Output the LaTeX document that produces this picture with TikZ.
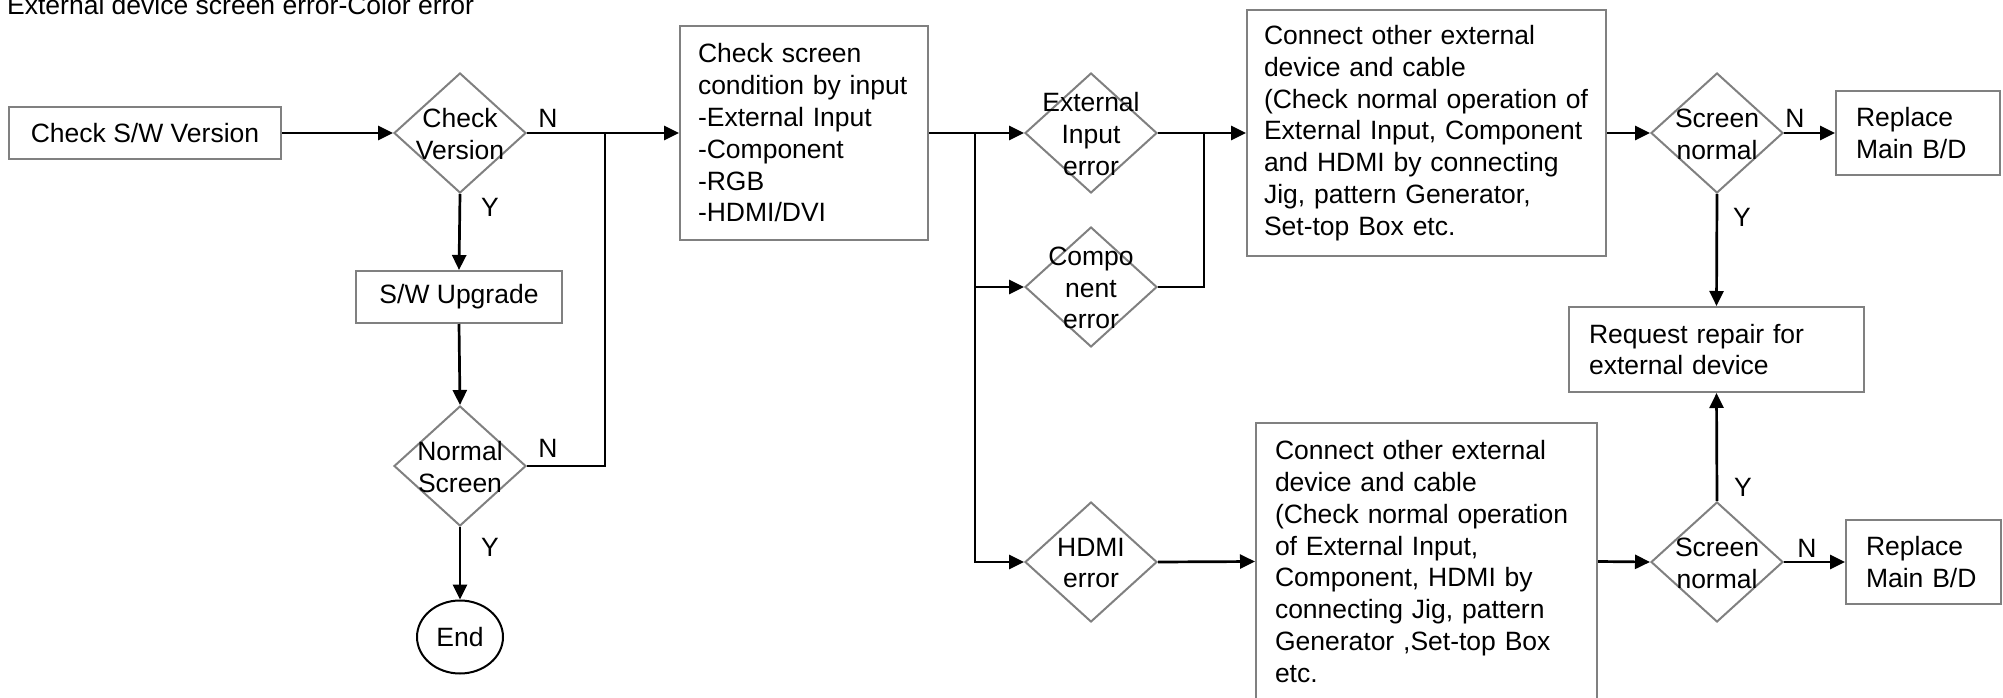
\documentclass[tikz,border=0pt]{standalone}
\usepackage{fontspec}
\setmainfont{Liberation Sans}
\usetikzlibrary{shapes.geometric,arrows.meta}
\definecolor{bordergray}{RGB}{128,128,128}
\tikzset{
  box/.style={draw=bordergray, line width=2pt, rectangle, align=left, inner ysep=0pt},
  cbox/.style={draw=bordergray, line width=2pt, rectangle, align=center, inner sep=0pt},
  dec/.style={draw=bordergray, line width=2pt, diamond, minimum width=132pt, minimum height=120pt, inner sep=0pt},
  dtext/.style={align=center, inner sep=0pt},
  flow/.style={line width=2.7pt, -{Triangle[length=15pt,width=14pt]}},
  plain/.style={line width=2.7pt},
  lab/.style={inner sep=0pt},
  endnode/.style={draw=black, line width=2pt, ellipse, minimum width=86pt, minimum height=73pt, inner sep=0pt}
}
\begin{document}
\begin{tikzpicture}[x=1pt,y=-1pt,font=\fontsize{26.5}{31.8}\selectfont]
\path[use as bounding box] (0,0) rectangle (2003,698);
\clip (0,0) rectangle (2003,698);

\node[anchor=base west, inner sep=0pt] (title) at (7,15) {External device screen error-Color error};

% left column
\node[cbox, minimum width=272pt, minimum height=52pt] (csw) at (145,133) {Check S/W Version};
\node[dec] (cv) at (460,133) {};
\node[dtext] (cvt) at (460,134) {Check\\Version};
\node[cbox, minimum width=206pt, minimum height=52pt] (swu) at (459,297) {S/W Upgrade};
\node[dec] (ns) at (460,466) {};
\node[dtext] (nst) at (460,467) {Normal\\Screen};
\node[endnode] (end) at (460,637) {End};

\coordinate (j1) at (605,133);
\coordinate (j2) at (975,133);
\coordinate (j3) at (1204,133);

% check screen box
\node[box, text width=212pt, inner xsep=18pt, minimum height=214pt] (chk) at (804,133)
  {Check screen\\condition by input\\-External Input\\-Component\\-RGB\\-HDMI/DVI};

% error diamonds
\node[dec] (ext) at (1091,133) {};
\node[dtext] (extt) at (1091,134) {External\\Input\\error};
\node[dec] (comp) at (1091,287) {};
\node[dtext] (compt) at (1091,288) {Compo\\nent\\error};
\node[dec] (hdmi) at (1091,562) {};
\node[dtext] (hdmit) at (1091,563) {HDMI\\error};

% connect boxes
\node[box, text width=325pt, inner xsep=17pt, minimum height=246pt] (con1) at (1426.5,133)
  {Connect other external\\device and cable\\(Check normal operation of\\External Input, Component\\and HDMI by connecting\\Jig, pattern Generator,\\Set-top Box etc.};
\node[box, text width=303pt, inner xsep=19pt, minimum height=277pt] (con2) at (1426.5,561.5)
  {Connect other external\\device and cable\\(Check normal operation\\of External Input,\\Component, HDMI by\\connecting Jig, pattern\\Generator ,Set-top Box\\etc.};

% right column
\node[dec] (sn1) at (1717,133) {};
\node[dtext] (sn1t) at (1717,134) {Screen\\normal};
\node[box, text width=124pt, inner xsep=20pt, minimum height=84pt] (rep1) at (1918,133) {Replace\\Main B/D};
\node[box, text width=255pt, inner xsep=20pt, minimum height=85pt] (req) at (1716.5,349.5) {Request repair for\\external device};
\node[dec] (sn2) at (1717,562) {};
\node[dtext] (sn2t) at (1717,563) {Screen\\normal};
\node[box, text width=115pt, inner xsep=20pt, minimum height=84pt] (rep2) at (1923.5,562) {Replace\\Main B/D};

% labels
\node[lab] (n1) at (548,118) {N};
\node[lab] (y1) at (490,207) {Y};
\node[lab] (n2) at (548,448) {N};
\node[lab] (y2) at (490,547) {Y};
\node[lab] (n3) at (1795,118) {N};
\node[lab] (y3) at (1742,217) {Y};
\node[lab] (n4) at (1807,548) {N};
\node[lab] (y4) at (1743,487) {Y};

% connectors
\draw[flow] (csw.east) -- (cv.west);
\draw[flow] (cv.east) -- (chk.west);
\draw[flow] (cv.south) -- (swu.north);
\draw[flow] (swu.south) -- (ns.north);
\draw[plain] (ns.east) -| (j1);
\draw[flow] (ns.south) -- (end.north);
\draw[flow] (chk.east) -- (ext.west);
\draw[flow] (j2) |- (comp.west);
\draw[flow] (j2) |- (hdmi.west);
\draw[flow] (ext.east) -- (con1.west);
\draw[plain] (comp.east) -| (j3);
\draw[flow] (con1.east) -- (sn1.west);
\draw[flow] (sn1.east) -- (rep1.west);
\draw[flow] (sn1.south) -- (req.north);
\draw[flow] (hdmi.east) -- (con2.west);
\draw[flow] (con2.east) -- (sn2.west);
\draw[flow] (sn2.east) -- (rep2.west);
\draw[flow] (sn2.north) -- (req.south);
\end{tikzpicture}
\end{document}
